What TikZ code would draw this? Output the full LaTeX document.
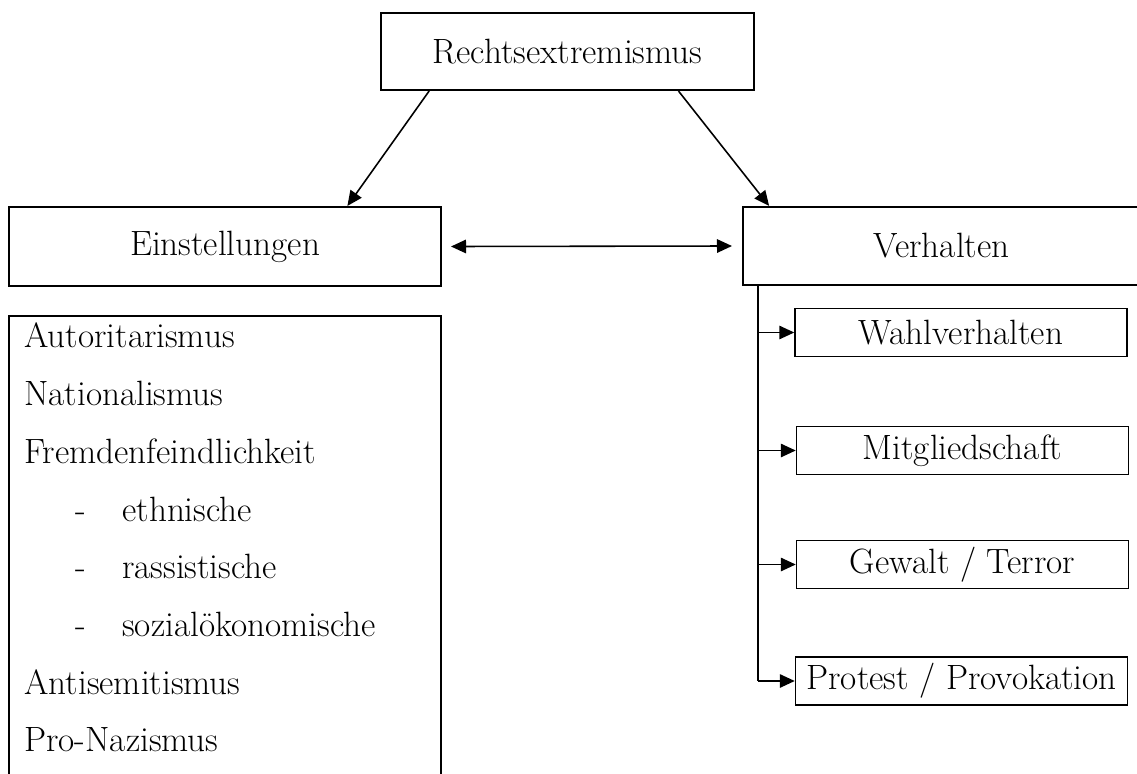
\documentclass[tikz,border=0pt]{standalone}
\usetikzlibrary{calc,arrows.meta}

\tikzset{
  mainbox/.style={draw, line width=1.2pt, inner sep=0pt},
  branchbox/.style={draw, line width=0.9pt, inner sep=0pt, minimum width=6.64cm, minimum height=0.96cm},
  listitem/.style={anchor=base west, inner sep=0pt},
  tip/.style={line width=0.9pt, -{Triangle[length=0.3cm, width=0.27cm]}},
  twotip/.style={line width=0.9pt, {Triangle[length=0.3cm, width=0.27cm]}-{Triangle[length=0.3cm, width=0.27cm]}}
}

\begin{document}
\begin{tikzpicture}[x=0.02cm, y=-0.02cm, font=\fontsize{20}{24}\selectfont]
  \clip (0,0) rectangle (1137,774);

  % The root box
  \node[mainbox, minimum width=7.46cm, minimum height=1.54cm] (rex) at (567.5,51.5) {Rechtsextremismus};

  % The two sides
  \node[mainbox, minimum width=8.64cm, minimum height=1.58cm] (ein) at (225,246.5) {Einstellungen};
  \node[mainbox, minimum width=7.94cm, minimum height=1.56cm] (ver) at (941.5,246) {Verhalten};
  \draw[tip] ($(rex.south west)!0.131!(rex.south east)$) -- ($(ein.north west)!0.782!(ein.north east)$);
  \draw[tip] ($(rex.south west)!0.796!(rex.south east)$) -- ($(ver.north west)!0.068!(ver.north east)$);
  \draw[twotip] ([xshift=0.18cm]ein.east) -- ([xshift=-0.2cm]ver.west);

  % The list of attitudes
  \node[mainbox, minimum width=8.64cm, minimum height=9.68cm] (list) at (225,558) {};
  \node[listitem] (aut) at (24,347) {Autoritarismus};
  \node[listitem] (nat) at (24,405) {Nationalismus};
  \node[listitem] (fre) at (24,463) {Fremdenfeindlichkeit};
  \node[listitem] (d1) at (75,521) {-};
  \node[listitem] (eth) at (122,521) {ethnische};
  \node[listitem] (d2) at (75,578) {-};
  \node[listitem] (ras) at (122,578) {rassistische};
  \node[listitem] (d3) at (75,636) {-};
  \node[listitem] (soz) at (122,636) {sozialökonomische};
  \node[listitem] (ant) at (24,694) {Antisemitismus};
  \node[listitem] (pro) at (24,751) {Pro-Nazismus};

  % The forms of behaviour
  \coordinate (trunk) at ($(ver.south west)+(16,0)$);
  \node[branchbox] (wahl) at (961,332.5) {Wahlverhalten};
  \node[branchbox] (mitg) at (962.5,450.5) {Mitgliedschaft};
  \node[branchbox] (gew) at (962.5,564.5) {Gewalt / Terror};
  \node[branchbox] (prot) at (961.5,681) {Protest / Provokation};
  \draw[line width=0.9pt] (trunk) -- (trunk |- prot.west);
  \draw[tip] (trunk |- wahl.west) -- (wahl.west);
  \draw[tip] (trunk |- mitg.west) -- (mitg.west);
  \draw[tip] (trunk |- gew.west) -- (gew.west);
  \draw[tip] (trunk |- prot.west) -- (prot.west);

\end{tikzpicture}
\end{document}
